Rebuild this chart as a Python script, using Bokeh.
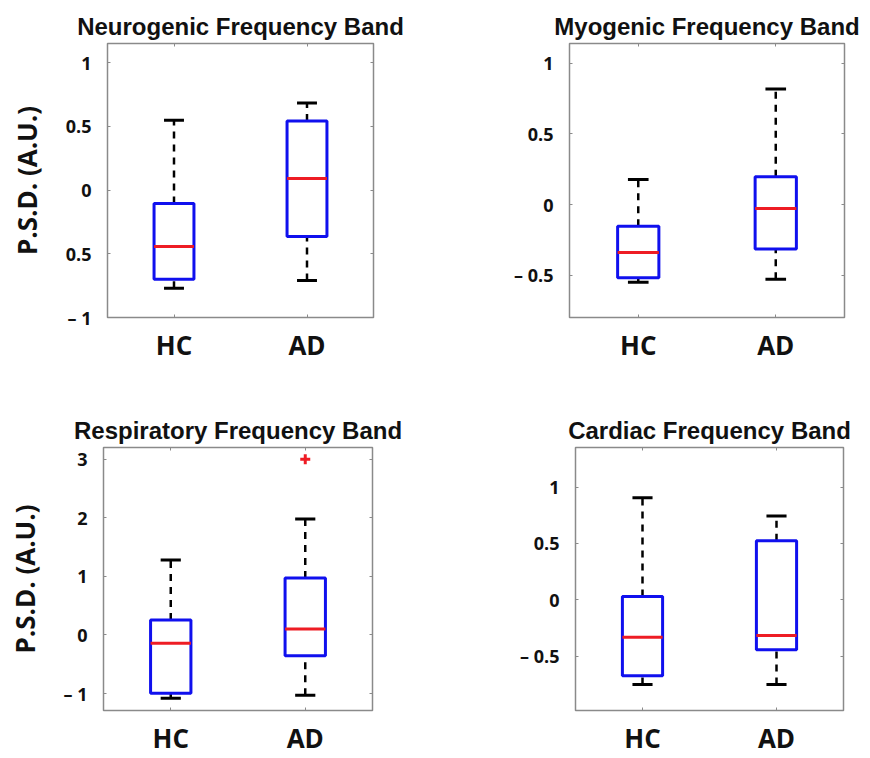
from bokeh.plotting import figure
from bokeh.layouts import column, row
from bokeh.models import FixedTicker, Range1d, LinearAxis, CustomJSTickFormatter
from bokeh.embed import file_html
from bokeh.resources import INLINE

groups = ["HC", "AD"]
positions = [1, 2]

titles = ["Neurogenic Frequency Band", "Myogenic Frequency Band",
          "Respiratory Frequency Band", "Cardiac Frequency Band"]

# box statistics per panel: [HC, AD]
low_whisker = [[-0.77, -0.71], [-0.55, -0.53], [-1.08, -1.03], [-0.75, -0.75]]
q1 = [[-0.70, -0.365], [-0.518, -0.315], [-0.995, -0.354], [-0.672, -0.441]]
median = [[-0.443, 0.091], [-0.340, -0.028], [-0.14, 0.10], [-0.33, -0.316]]
q3 = [[-0.105, 0.541], [-0.154, 0.196], [0.253, 0.973], [0.03, 0.524]]
high_whisker = [[0.547, 0.684], [0.177, 0.818], [1.28, 1.98], [0.904, 0.743]]
outlier_x = [[], [], [2], []]
outlier_y = [[], [], [3.0], []]

y_ranges = [(-1.0, 1.15), (-0.8, 1.14), (-1.29, 3.2), (-0.98, 1.35)]
y_ticks = [[-1, -0.5, 0, 0.5, 1], [-0.5, 0, 0.5, 1], [-1, 0, 1, 2, 3], [-0.5, 0, 0.5, 1]]
y_tick_labels = [["\u2013 1", "0.5", "0", "0.5", "1"],
                 ["\u2013 0.5", "0", "0.5", "1"],
                 ["\u2013 1", "0", "1", "2", "3"],
                 ["\u2013 0.5", "0", "0.5", "1"]]

# figure geometry: (width, height, left, right, top, bottom)
geom = [(435, 380, 107, 62, 43, 63),
        (435, 380, 134, 26, 43, 63),
        (435, 378, 103, 63, 66, 45),
        (435, 378, 140, 27, 67, 45)]

BOX_W = 0.30
CAP_W = 0.15
FRAME = "#8a8a8a"
TICK_FONT = "Open Sans"
TITLE_FONT = "Liberation Sans"


def make_panel(i):
    w, h, bl, br, bt, bb = geom[i]
    p = figure(width=w, height=h, output_backend="svg", toolbar_location=None,
               x_range=Range1d(0.5, 2.5), y_range=Range1d(*y_ranges[i]),
               min_border_left=bl, min_border_right=br,
               min_border_top=bt, min_border_bottom=bb,
               title=titles[i])
    p.title.text_font = TITLE_FONT
    p.title.text_font_size = "24px"
    p.title.text_font_style = "bold"
    p.title.align = "center"
    p.title.text_color = "#111111"
    p.title.standoff = 7
    p.grid.visible = False
    p.outline_line_color = FRAME
    p.outline_line_width = 1.5
    p.background_fill_color = "white"
    p.border_fill_color = "white"

    # axes
    p.xaxis.ticker = FixedTicker(ticks=positions)
    p.xaxis.major_label_overrides = {pos: g for pos, g in zip(positions, groups)}
    p.yaxis.ticker = FixedTicker(ticks=y_ticks[i])
    p.yaxis.major_label_overrides = {t: l for t, l in zip(y_ticks[i], y_tick_labels[i])}
    for ax in (p.xaxis[0], p.yaxis[0]):
        ax.axis_line_color = None
        ax.major_tick_in = 3
        ax.major_tick_out = 0
        ax.minor_tick_line_color = None
        ax.major_tick_line_color = FRAME
        ax.major_label_text_font = TICK_FONT
        ax.major_label_text_font_style = "bold"
        ax.major_label_text_color = "#111111"
    p.xaxis.major_label_text_font_size = "26px"
    p.xaxis.major_label_standoff = 9
    p.yaxis.major_label_text_font_size = "18px"
    p.yaxis.major_label_standoff = 16

    # mirrored tick marks on top and right (no labels)
    for loc in ("right", "above"):
        ax = LinearAxis(ticker=FixedTicker(ticks=y_ticks[i] if loc == "right" else positions),
                        formatter=CustomJSTickFormatter(code="return ''"))
        ax.axis_line_color = None
        ax.major_tick_in = 3
        ax.major_tick_out = 0
        ax.minor_tick_line_color = None
        ax.major_tick_line_color = FRAME
        ax.major_label_standoff = 0
        p.add_layout(ax, loc)

    if i in (0, 2):
        p.yaxis[0].axis_label = "P.S.D. (A.U.)"
        p.yaxis[0].axis_label_text_font = TICK_FONT
        p.yaxis[0].axis_label_text_font_style = "bold"
        p.yaxis[0].axis_label_text_font_size = "26px"
        p.yaxis[0].axis_label_text_color = "#111111"
        p.yaxis[0].axis_label_standoff = 18

    lw = low_whisker[i]
    a = q1[i]
    m = median[i]
    b = q3[i]
    hw = high_whisker[i]
    x = positions

    # whiskers (dashed)
    p.segment(x0=x, x1=x, y0=b, y1=hw, line_color="black", line_width=2.5, line_dash="7 6")
    p.segment(x0=x, x1=x, y0=lw, y1=a, line_color="black", line_width=2.5, line_dash="7 6")
    # caps
    xc0 = [v - CAP_W / 2 for v in x]
    xc1 = [v + CAP_W / 2 for v in x]
    p.segment(x0=xc0, x1=xc1, y0=hw, y1=hw, line_color="black", line_width=3)
    p.segment(x0=xc0, x1=xc1, y0=lw, y1=lw, line_color="black", line_width=3)
    # boxes
    xb0 = [v - BOX_W / 2 for v in x]
    xb1 = [v + BOX_W / 2 for v in x]
    p.quad(left=xb0, right=xb1, bottom=a, top=b, fill_color=None,
           line_color="#1010ee", line_width=3)
    # medians
    p.segment(x0=xb0, x1=xb1, y0=m, y1=m, line_color="#ee1c24", line_width=3)
    # outliers
    if outlier_x[i]:
        p.scatter(x=outlier_x[i], y=outlier_y[i], marker="cross", size=10,
                  line_color="#ee1c24", line_width=3)
    return p


panels = [make_panel(i) for i in range(4)]
layout = column(row(panels[0], panels[1]), row(panels[2], panels[3]))

with open("out.html", "w") as f:
    f.write(file_html(layout, INLINE))
